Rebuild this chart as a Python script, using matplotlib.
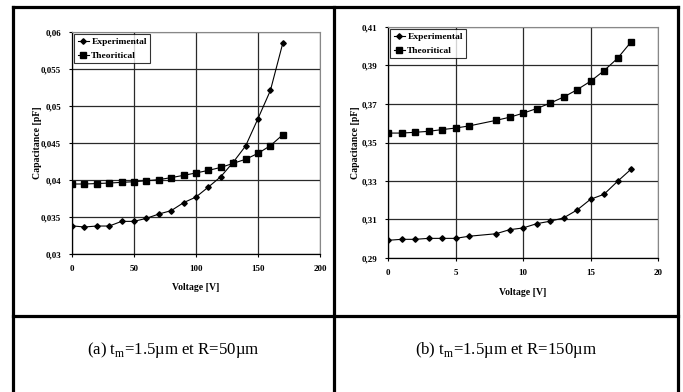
import matplotlib
matplotlib.use("Agg")
import matplotlib.pyplot as plt
from matplotlib.lines import Line2D
from matplotlib.ticker import FuncFormatter

# ---- data: panel (a) ----
volt_a = [0, 10, 20, 30, 40, 50, 60, 70, 80, 90, 100, 110, 120, 130, 140, 150, 160, 170]
exp_a = [0.0338, 0.03365, 0.03378, 0.03378, 0.03441, 0.03441, 0.03482, 0.0354, 0.03586,
         0.03694, 0.0377, 0.03905, 0.04045, 0.0424, 0.0446, 0.0483, 0.0521, 0.0585]
theo_a = [0.03946, 0.03946, 0.03952, 0.03959, 0.03968, 0.03977, 0.0399, 0.04005, 0.04032,
          0.04063, 0.04095, 0.0413, 0.0417, 0.04225, 0.0428, 0.0436, 0.04464, 0.04612]

# ---- data: panel (b) ----
volt_b = [0, 1, 2, 3, 4, 5, 6, 8, 9, 10, 11, 12, 13, 14, 15, 16, 17, 18]
exp_b = [0.2992, 0.2997, 0.2997, 0.3002, 0.3002, 0.3002, 0.3013, 0.3026, 0.3047, 0.3056,
         0.3078, 0.3091, 0.3108, 0.3149, 0.3205, 0.3231, 0.3298, 0.3361]
theo_b = [0.3549, 0.3549, 0.3553, 0.3558, 0.3567, 0.3575, 0.3586, 0.3615, 0.3631, 0.3652,
          0.3676, 0.3704, 0.3736, 0.3774, 0.3818, 0.3873, 0.3937, 0.4022]

xticks_a = [0, 50, 100, 150, 200]
yticks_a = [0.03, 0.035, 0.04, 0.045, 0.05, 0.055, 0.06]
xticks_b = [0, 5, 10, 15, 20]
yticks_b = [0.29, 0.31, 0.33, 0.35, 0.37, 0.39, 0.41]

captions = ["(a) t$_\\mathregular{m}$=1.5µm et R=50µm", "(b) t$_\\mathregular{m}$=1.5µm et R=150µm"]
series_names = ["Experimental", "Theoritical"]

plt.rcParams['font.family'] = ['Liberation Serif', 'DejaVu Serif']
plt.rcParams['mathtext.fontset'] = 'custom'
plt.rcParams['mathtext.rm'] = 'Liberation Serif'

W, H = 683, 392
fig = plt.figure(figsize=(W / 100, H / 100), dpi=100)


def fx(px):
    return px / W


def fy(py):
    return 1 - py / H


def comma_fmt(v, pos):
    s = ("%g" % v)
    return s.replace(".", ",")


def make_panel(rect, xv, e, t, xt, yt, ylabel_x, xlabpad):
    ax = fig.add_axes(rect)
    ax.set_xlim(xt[0], xt[-1])
    ax.set_ylim(yt[0], yt[-1])
    ax.set_xticks(xt)
    ax.set_yticks(yt)
    ax.xaxis.set_major_formatter(FuncFormatter(comma_fmt))
    ax.yaxis.set_major_formatter(FuncFormatter(comma_fmt))
    ax.grid(True, color="#2a2a2a", linewidth=0.9)
    ax.set_axisbelow(True)
    for s in ["top", "right"]:
        ax.spines[s].set_color("#888888")
        ax.spines[s].set_linewidth(0.8)
    for s in ["left", "bottom"]:
        ax.spines[s].set_color("black")
        ax.spines[s].set_linewidth(0.9)
    ax.tick_params(direction="out", length=2.5, width=0.8, labelsize=6.5, pad=5.5)
    for lab in ax.get_xticklabels() + ax.get_yticklabels():
        lab.set_fontweight("bold")
    ax.plot(xv, e, color="black", linewidth=0.8, marker="D", markersize=2.8, label=series_names[0])
    ax.plot(xv, t, color="black", linewidth=0.8, marker="s", markersize=3.8, label=series_names[1])
    ax.set_xlabel("Voltage [V]", fontsize=7, fontweight="bold", labelpad=xlabpad)
    ax.set_ylabel("Capacitance [pF]", fontsize=7, fontweight="bold")
    ax.yaxis.set_label_coords(ylabel_x, 0.5)
    leg = ax.legend(loc="upper left", frameon=True, fancybox=False,
                    handlelength=1.2, handletextpad=0.25, borderpad=0.35,
                    labelspacing=0.55, borderaxespad=0.25,
                    prop={"weight": "bold", "size": 6.8})
    leg.get_frame().set_edgecolor("black")
    leg.get_frame().set_linewidth(0.8)
    return ax


ax1 = make_panel([fx(72), fy(254), fx(320) - fx(72), fy(32) - fy(254)],
                 volt_a, exp_a, theo_a, xticks_a, yticks_a, -0.12, 7)
ax2 = make_panel([fx(388), fy(258), fx(658) - fx(388), fy(27) - fy(258)],
                 volt_b, exp_b, theo_b, xticks_b, yticks_b, -0.104, 8)

# table frame
lw = 2.3
def fline(x0, y0, x1, y1):
    fig.add_artist(Line2D([fx(x0), fx(x1)], [fy(y0), fy(y1)], color="black",
                          linewidth=lw, solid_capstyle="projecting"))

fline(13, 7, 678, 7)
fline(13, 7, 13, 395)
fline(678, 7, 678, 395)
fline(334, 7, 334, 395)
fline(13, 316, 678, 316)

fig.text(fx(173), fy(350), captions[0], ha="center", va="center", fontsize=12.1)
fig.text(fx(506), fy(350), captions[1], ha="center", va="center", fontsize=12.1)

fig.savefig("out.png", dpi=100)
